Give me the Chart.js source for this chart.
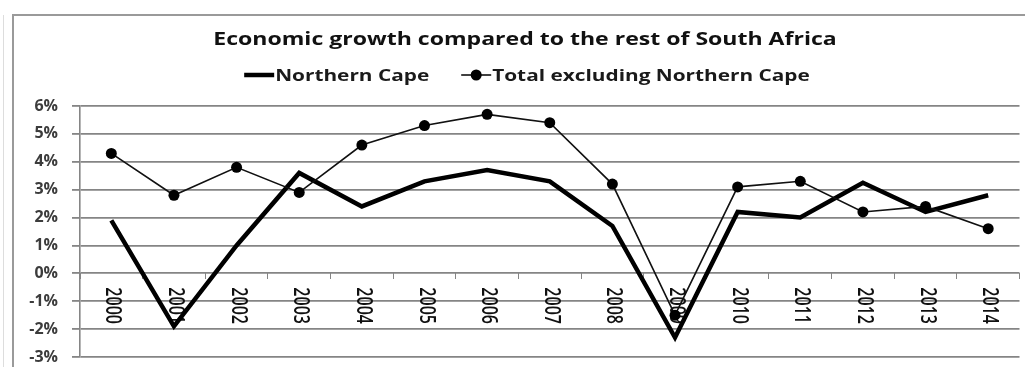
<!DOCTYPE html>
<html>
<head>
<meta charset="utf-8">
<script src="https://cdn.jsdelivr.net/npm/chart.js@4.4.1/dist/chart.umd.min.js"></script>
<style>
  html, body { margin: 0; padding: 0; background: #ffffff; }
  canvas { display: block; }
</style>
</head>
<body>
<canvas id="chart" width="1025" height="367"></canvas>
<script>
// Years on the category axis
const years = ['2000', '2001', '2002', '2003', '2004', '2005', '2006', '2007',
               '2008', '2009', '2010', '2011', '2012', '2013', '2014'];

// Real GDP growth, % per year
const northernCape = [1.9, -1.9, 1.0, 3.6, 2.4, 3.3, 3.7, 3.3, 1.7, -2.3, 2.2, 2.0, 3.25, 2.2, 2.8];
const totalExcludingNC = [4.3, 2.8, 3.8, 2.9, 4.6, 5.3, 5.7, 5.4, 3.2, -1.5, 3.1, 3.3, 2.2, 2.4, 1.6];

// Value axis range and step (percent)
const yMin = -3;
const yMax = 6;
const yStep = 1;

const chartTitle = 'Economic growth compared to the rest of South Africa';
const seriesNames = ['Northern Cape', 'Total excluding Northern Cape'];

const FONT = "'Open Sans', 'DejaVu Sans', sans-serif";
const GRID = '#858585';
const WIDE = 1.3;   // the lettering is set wide

// White page with the grey frame round the chart
const framePlugin = {
  id: 'frame',
  beforeDraw(chart) {
    const ctx = chart.ctx;
    ctx.save();
    ctx.fillStyle = '#ffffff';
    ctx.fillRect(0, 0, chart.width, chart.height);
    ctx.strokeStyle = '#9a9a9a';
    ctx.lineWidth = 2;
    ctx.strokeRect(13, 15, chart.width + 20, chart.height + 20);
    ctx.strokeStyle = '#dddddd';
    ctx.lineWidth = 1;
    ctx.beginPath();
    ctx.moveTo(3.5, 15);
    ctx.lineTo(3.5, chart.height);
    ctx.stroke();
    ctx.restore();
  }
};

// Title and legend row, in wide-set lettering
const headerPlugin = {
  id: 'header',
  afterDraw(chart) {
    const ctx = chart.ctx;
    ctx.save();
    ctx.fillStyle = '#111111';
    ctx.textBaseline = 'middle';
    ctx.textAlign = 'center';
    ctx.font = "bold 18px " + FONT;
    ctx.save();
    ctx.translate(525, 40);
    ctx.scale(1.28, 1);
    ctx.fillText(chartTitle, 0, 0);
    ctx.restore();

    const ds = chart.data.datasets;
    const cy = 75;
    const sample = 30;
    const gap = 1;
    const between = 32;
    ctx.font = "bold 16px " + FONT;
    ctx.textAlign = 'left';
    const widths = ds.map(d => sample + gap + ctx.measureText(d.label).width * WIDE);
    const total = widths.reduce((a, b) => a + b, 0) + between * (ds.length - 1);
    let x = 527 - total / 2;
    ds.forEach((d, i) => {
      ctx.strokeStyle = d.borderColor;
      ctx.lineWidth = d.borderWidth;
      ctx.beginPath();
      ctx.moveTo(x, cy);
      ctx.lineTo(x + sample, cy);
      ctx.stroke();
      if (d.pointRadius > 0) {
        ctx.fillStyle = d.pointBackgroundColor;
        ctx.beginPath();
        ctx.arc(x + sample / 2, cy, d.pointRadius, 0, Math.PI * 2);
        ctx.fill();
      }
      ctx.fillStyle = '#1a1a1a';
      ctx.save();
      ctx.translate(x + sample + gap, cy + 1);
      ctx.scale(WIDE, 1);
      ctx.fillText(d.label, 0, 0);
      ctx.restore();
      x += widths[i] + between;
    });
    ctx.restore();
  }
};

// Year labels, turned to read downwards, hung under the zero line
const yearLabelPlugin = {
  id: 'yearLabels',
  beforeDatasetsDraw(chart) {
    const ctx = chart.ctx;
    const xs = chart.scales.x;
    const ys = chart.scales.y;
    const top = ys.getPixelForValue(0) + 14;
    ctx.save();
    ctx.fillStyle = '#111111';
    ctx.font = "600 16px " + FONT;
    ctx.textAlign = 'left';
    ctx.textBaseline = 'middle';
    years.forEach((label, i) => {
      ctx.save();
      ctx.translate(xs.getPixelForTick(i) + 1, top);
      ctx.rotate(Math.PI / 2);
      ctx.scale(1, WIDE);
      ctx.fillText(label, 0, 0);
      ctx.restore();
    });
    ctx.restore();
  }
};

new Chart(document.getElementById('chart'), {
  type: 'line',
  data: {
    labels: years,
    datasets: [
      {
        label: seriesNames[0],
        data: northernCape,
        borderColor: '#000000',
        backgroundColor: '#000000',
        borderWidth: 4.5,
        pointRadius: 0,
        pointHoverRadius: 0,
        tension: 0,
        order: 2
      },
      {
        label: seriesNames[1],
        data: totalExcludingNC,
        borderColor: '#111111',
        backgroundColor: '#000000',
        pointBackgroundColor: '#000000',
        pointBorderColor: '#000000',
        borderWidth: 1.6,
        pointRadius: 5.5,
        pointBorderWidth: 0,
        tension: 0,
        order: 1
      }
    ]
  },
  options: {
    responsive: false,
    animation: false,
    devicePixelRatio: 1,
    layout: { padding: { left: 0, right: 4, top: 106, bottom: 10 } },
    plugins: {
      legend: { display: false },
      tooltip: { enabled: false },
      title: { display: false }
    },
    scales: {
      x: {
        type: 'category',
        position: { y: 0 },
        offset: true,
        afterFit(scale) { scale.height = 0; },
        grid: {
          display: true,
          offset: true,
          drawOnChartArea: false,
          drawTicks: true,
          tickLength: 6,
          color: GRID,
          lineWidth: 1
        },
        border: { display: false },
        ticks: { display: false }
      },
      y: {
        min: yMin,
        max: yMax,
        afterFit(scale) {
          scale.width = 80;
          scale.paddingTop = 0;
          scale.paddingBottom = 0;
        },
        ticks: {
          stepSize: yStep,
          padding: 14,
          color: '#3c3c3c',
          font: { family: FONT, size: 16, weight: 'bold' },
          callback: v => v + '%'
        },
        grid: {
          color: GRID,
          lineWidth: 1.8,
          drawTicks: true,
          tickLength: 8
        },
        border: { display: true, color: GRID, width: 1.6 }
      }
    }
  },
  plugins: [framePlugin, yearLabelPlugin, headerPlugin]
});
</script>
</body>
</html>
